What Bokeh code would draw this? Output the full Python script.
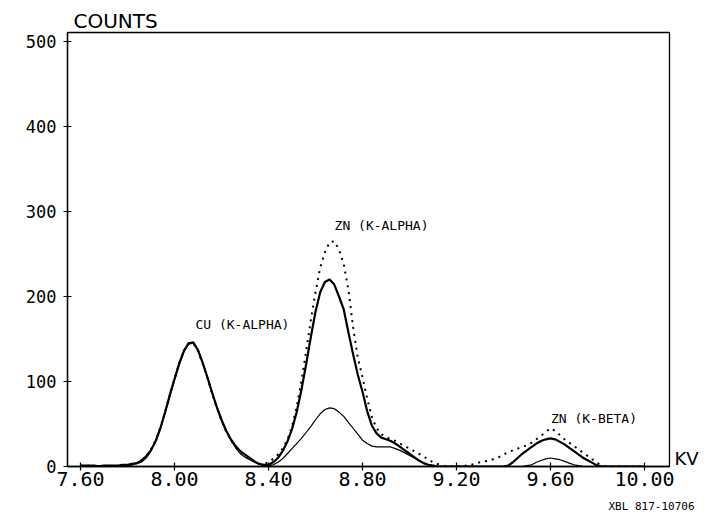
from bokeh.plotting import figure
from bokeh.models import Range1d, FixedTicker, ColumnDataSource, Title, LinearAxis
from bokeh.core.properties import value
from bokeh.embed import file_html
from bokeh.resources import INLINE

# channel energies (kV)
kev = [7.60, 7.62, 7.64, 7.66, 7.68, 7.70, 7.72, 7.74, 7.76, 7.78,
       7.80, 7.82, 7.84, 7.86, 7.88, 7.90, 7.92, 7.94, 7.96, 7.98,
       8.00, 8.02, 8.04, 8.06, 8.08, 8.10, 8.12, 8.14, 8.16, 8.18,
       8.20, 8.22, 8.24, 8.26, 8.28, 8.30, 8.32, 8.34, 8.36, 8.38,
       8.40, 8.42, 8.44, 8.46, 8.48, 8.50, 8.52, 8.54, 8.56, 8.58,
       8.60, 8.62, 8.64, 8.66, 8.68, 8.70, 8.72, 8.74, 8.76, 8.78,
       8.80, 8.82, 8.84, 8.86, 8.88, 8.90, 8.92, 8.94, 8.96, 8.98,
       9.00, 9.02, 9.04, 9.06, 9.08, 9.10, 9.12, 9.14, 9.16, 9.18,
       9.20, 9.22, 9.24, 9.26, 9.28, 9.30, 9.32, 9.34, 9.36, 9.38,
       9.40, 9.42, 9.44, 9.46, 9.48, 9.50, 9.52, 9.54, 9.56, 9.58,
       9.60, 9.62, 9.64, 9.66, 9.68, 9.70, 9.72, 9.74, 9.76, 9.78,
       9.80, 9.82, 9.84, 9.86, 9.88, 9.90, 9.92, 9.94, 9.96, 9.98,
       10.00]

# thin solid spectrum
thin = [1, 1, 0, 1, 1, 0, 1, 1, 1, 1,
        1, 2, 4, 8, 13, 20, 30, 45, 63, 83,
        102, 120, 135, 144, 145, 137, 122, 105, 87, 70,
        55, 42, 31, 22, 15, 11, 8, 5, 3, 1,
        1, 2, 5, 9, 15, 21, 27, 33, 40, 47,
        55, 62, 67, 69, 68, 64, 59, 52, 45, 38,
        31, 27, 24, 23, 23, 23, 23, 21, 19, 16,
        13, 10, 7, 4, 2, 1, 0, 0, 0, 0,
        0, 0, 0, 0, 0, 0, 0, 0, 0, 0,
        0, 0, 0, 0, 0, 1, 2, 5, 7, 9,
        10, 9, 8, 6, 4, 2, 1, 0, 0, 0,
        0, 0, 0, 0, 0, 0, 0, 0, 0, 0,
        0]

# thick solid spectrum
thick = [1, 1, 1, 1, 0, 1, 1, 1, 1, 2,
         2, 3, 4, 6, 11, 19, 30, 45, 64, 84,
         103, 121, 136, 145, 146, 137, 122, 105, 87, 70,
         55, 42, 32, 24, 18, 14, 10, 6, 3, 2,
         2, 5, 10, 18, 29, 44, 64, 90, 120, 152,
         182, 205, 217, 220, 214, 200, 185, 158, 132, 108,
         88, 65, 48, 39, 34, 32, 30, 27, 23, 19,
         15, 11, 7, 4, 2, 1, 0, 0, 0, 0,
         0, 0, 0, 0, 0, 0, 0, 0, 0, 0,
         0, 1, 5, 10, 15, 19, 23, 27, 30, 32,
         33, 32, 29, 26, 22, 18, 14, 10, 7, 4,
         1, 0, 0, 0, 0, 0, 0, 0, 0, 0,
         0]

# dotted spectrum
dotted = [1, 1, 1, 0, 1, 1, 1, 0, 1, 1,
          1, 2, 4, 7, 12, 20, 31, 46, 64, 84,
          103, 121, 136, 145, 145, 136, 121, 104, 86, 69,
          54, 41, 31, 23, 17, 13, 9, 6, 3, 3,
          5, 9, 14, 21, 31, 47, 70, 100, 135, 172,
          205, 234, 252, 264, 265, 255, 238, 208, 164, 128,
          105, 80, 58, 45, 38, 35, 32, 30, 27, 24,
          21, 18, 15, 12, 8, 5, 3, 1, 0, 0,
          0, 1, 1, 2, 3, 5, 6, 7, 9, 11,
          14, 17, 19, 21, 23, 25, 28, 32, 36, 41,
          45, 42, 37, 32, 28, 24, 20, 16, 12, 8,
          4, 1, 0, 0, 0, 0, 0, 0, 0, 0,
          0]

x_ticks = [7.6, 8.0, 8.4, 8.8, 9.2, 9.6, 10.0]
x_tick_labels = ["7.60", "8.00", "8.40", "8.80", "9.20", "9.60", "10.00"]
y_ticks = [0, 100, 200, 300, 400, 500]
y_tick_labels = ["0", "100", "200", "300", "400", "500"]
y_title = "COUNTS"
x_unit = "KV"
plate_id = "XBL 817-10706"

peak_names = ["CU (K-ALPHA)", "ZN (K-ALPHA)", "ZN (K-BETA)"]
peak_name_x = [8.289, 8.881, 9.785]
peak_name_y = [167.6, 284.0, 56.5]

MONO = "DejaVu Sans Mono"
SANS = "DejaVu Sans"

p = figure(width=705, height=529, output_backend="svg", toolbar_location=None,
           x_range=Range1d(7.5447, 10.1064), y_range=Range1d(0, 510.6),
           min_border_left=67, min_border_right=36, min_border_top=32,
           min_border_bottom=63)

p.xgrid.visible = False
p.ygrid.visible = False
p.outline_line_color = "black"
p.outline_line_width = 1.3
p.background_fill_color = "white"
p.border_fill_color = "white"

# "COUNTS" above the frame, at its left
p.title.text = y_title
p.title.align = "left"
p.title.offset = 6
p.title.standoff = 0
p.title.text_font = SANS
p.title.text_font_size = "20px"
p.title.text_font_style = "normal"
p.title.text_color = "black"

for ax in (p.xaxis, p.yaxis):
    ax.axis_line_color = "black"
    ax.axis_line_width = 1.3
    ax.major_tick_line_color = "black"
    ax.major_tick_line_width = 1.2
    ax.major_tick_in = 4
    ax.major_tick_out = 4
    ax.minor_tick_line_color = None
    ax.major_label_text_font = MONO
    ax.major_label_text_color = "black"

p.xaxis.ticker = FixedTicker(ticks=x_ticks)
p.xaxis.major_label_overrides = dict(zip(x_ticks, x_tick_labels))
p.xaxis.major_label_text_font_size = "20px"
p.xaxis.major_label_standoff = 1

p.yaxis.ticker = FixedTicker(ticks=y_ticks)
p.yaxis.major_label_overrides = dict(zip(y_ticks, y_tick_labels))
p.yaxis.major_label_text_font_size = "17px"
p.yaxis.major_label_standoff = 7

# unit "KV" at the right end of the x axis, as a right-side axis label
kv_axis = LinearAxis(ticker=FixedTicker(ticks=[9.4]),
                     major_label_overrides={9.4: x_unit},
                     axis_line_color=None, major_tick_line_color=None,
                     minor_tick_line_color=None, major_tick_in=0, major_tick_out=0,
                     major_label_standoff=5, major_label_text_font=SANS,
                     major_label_text_font_size="18px",
                     major_label_text_color="black")
p.add_layout(kv_axis, "right")

# plate identifier below the chart, at the right
p.add_layout(Title(text=plate_id, align="left", offset=541, standoff=19,
                   text_font=MONO, text_font_size="11px",
                   text_font_style="normal", text_color="black"), "below")

src = ColumnDataSource(dict(kev=kev, thin=thin, thick=thick, dotted=dotted))

p.line("kev", "dotted", source=src, line_color="black", line_width=2.0,
       line_dash="2 5")
p.line("kev", "thick", source=src, line_color="black", line_width=2.2)
p.line("kev", "thin", source=src, line_color="black", line_width=1.2)

lab_src = ColumnDataSource(dict(x=peak_name_x, y=peak_name_y, t=peak_names))
p.text("x", "y", text="t", source=lab_src, text_font=value(MONO),
       text_font_size="13px", text_align="center", text_baseline="middle",
       text_color="black")

open("out.html", "w").write(file_html(p, INLINE))
